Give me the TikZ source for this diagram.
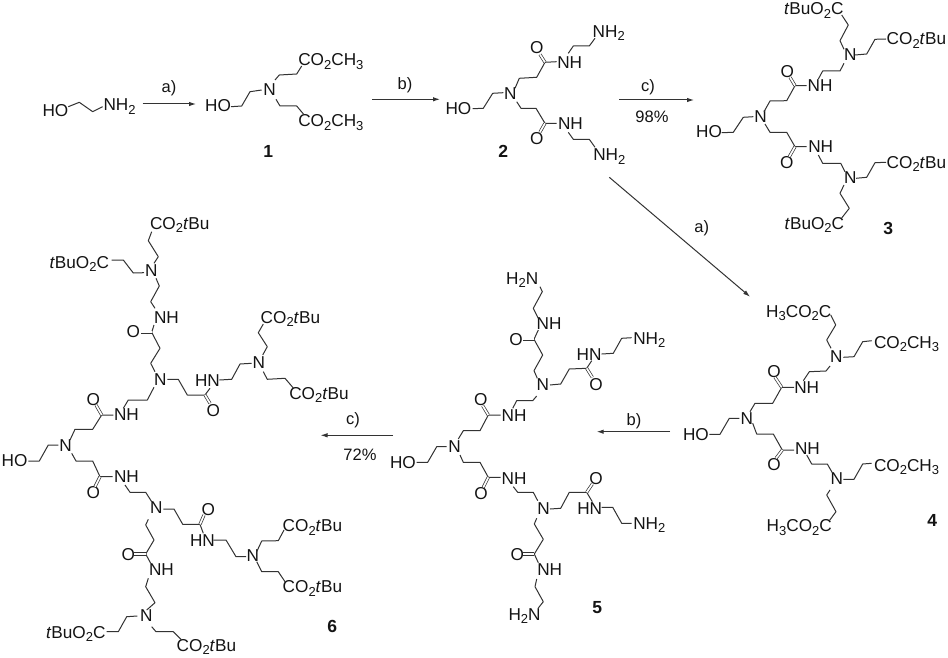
\documentclass[tikz,border=0pt]{standalone}
\usepackage{fontspec}
\setmainfont{Liberation Sans}
\usetikzlibrary{arrows.meta}
\newcommand\dn[1]{\raisebox{-0.2em}{\fontsize{13}{13}\selectfont #1}}
\newcommand\CM{CO\dn{2}CH\dn{3}}
\newcommand\MC{H\dn{3}CO\dn{2}C}
\newcommand\CB{CO\dn{2}\textit{t}Bu}
\newcommand\BC{\textit{t}BuO\dn{2}C}
\newcommand\NHt{NH\dn{2}}
\newcommand\HtN{H\dn{2}N}
\definecolor{ink}{HTML}{141414}
\definecolor{bondc}{HTML}{333333}
\tikzset{
 lbl/.style={anchor=base west,inner sep=0pt,outer sep=0pt,text=ink,font=\fontsize{17.2}{17.2}\selectfont},
 num/.style={anchor=center,inner sep=0pt,text=ink,font=\fontsize{17.5}{17.5}\selectfont\bfseries},
 cond/.style={anchor=center,inner sep=0pt,text=ink,font=\fontsize{16.5}{16.5}\selectfont},
 bond/.style={draw=bondc,line width=1pt,line join=round},
 dbl/.style={draw=bondc,double,double distance=1.7pt,line width=0.7pt},
 rxn/.style={draw=bondc,line width=1pt,-{Latex[length=7pt,width=4.5pt]}}
}
\begin{document}
\begin{tikzpicture}[x=1pt,y=-1pt]
\useasboundingbox (0,0) rectangle (948,658);
\fill[white] (0,0) rectangle (948,658);
% ---------- arrows
\coordinate (ra1) at (142.7,104); \coordinate (rb1) at (196,104);
\coordinate (ra2) at (372,99.3);  \coordinate (rb2) at (440,99.3);
\coordinate (ra3) at (619.3,100); \coordinate (rb3) at (694,100);
\coordinate (ra4) at (609.3,177.3); \coordinate (rb4) at (750,296.7);
\coordinate (ra5) at (670,431.7); \coordinate (rb5) at (596.7,431.7);
\coordinate (ra6) at (393,435.3); \coordinate (rb6) at (320.5,435.3);
\draw[rxn] (ra1)--(rb1); \draw[rxn] (ra2)--(rb2); \draw[rxn] (ra3)--(rb3);
\draw[rxn] (ra4)--(rb4); \draw[rxn] (ra5)--(rb5); \draw[rxn] (ra6)--(rb6);
\node[cond] (ca1) at (169,88) {a)};
\node[cond] (cb1) at (405,85) {b)};
\node[cond] (cc1) at (648,87) {c)};
\node[cond] (cy1) at (652,116.5) {98\%};
\node[cond] (ca2) at (701.7,228.3) {a)};
\node[cond] (cb2) at (634,421) {b)};
\node[cond] (cc2) at (353,420) {c)};
\node[cond] (cy2) at (360,454.5) {72\%};
% ---------- labels
\node[num] (n1) at (268.3,151.7) {1};
\node[num] (n2) at (503.3,151.7) {2};
\node[num] (n3) at (888.3,228.3) {3};
\node[num] (n4) at (932.3,520) {4};
\node[num] (n5) at (597.3,607.7) {5};
\node[num] (n6) at (332.3,626.7) {6};
% ---------- ethanolamine
\node[lbl] (z1) at (42.5,116.5) {HO};
\node[lbl] (z2) at (103.5,111) {\NHt};
\draw[bond] (68.3,106.7)--(79.3,102.3)--(92.7,111.7)--(102.7,106.7);
% ---------- 1
\node[lbl] (a1) at (205.2,112) {HO};
\node[lbl] (a2) at (263.3,96) {N};
\node[lbl] (a3) at (298.3,65.7) {\CM};
\node[lbl] (a4) at (298.3,126.7) {\CM};
\draw[bond] (231,106.7)--(241.7,106)--(250,91.7)--(261.7,90);
\draw[bond] (275,80)--(279.3,75)--(296.7,74)--(301.7,66);
\draw[bond] (276,99.3)--(280,106)--(296.7,106)--(304,114.7);
% ---------- 2
\node[lbl] (b1) at (445.5,114.3) {HO};
\node[lbl] (b2) at (504,99.3) {N};
\node[lbl] (b3) at (530,53.3) {O};
\node[lbl] (b4) at (557.3,68.3) {NH};
\node[lbl] (b5) at (592.7,37.3) {\NHt};
\node[lbl] (b6) at (558,130) {NH};
\node[lbl] (b7) at (530,145) {O};
\node[lbl] (b8) at (593.3,160.7) {\NHt};
\draw[bond] (472.7,108.7)--(483.3,108.3)--(492.7,93.3)--(503.3,92.7);
\draw[bond] (515,88.3)--(519.3,78.3)--(536.7,77.3)--(545,62.3)--(556.7,61.7);
\draw[dbl] (545,62.3)--(540,54.5);
\draw[bond] (568.3,53.3)--(573.3,46)--(589.3,46)--(595,38.3);
\draw[bond] (516.7,101.7)--(521,108.3)--(536,108.3)--(545,123.3)--(556.7,123.3);
\draw[dbl] (545,123.3)--(540,132);
\draw[bond] (568.3,132.3)--(573.3,139.3)--(589.3,139.3)--(595,147.3);
% ---------- 3
\node[lbl] (c1) at (696.2,137.3) {HO};
\node[lbl] (c2) at (754.3,122.3) {N};
\node[lbl] (c3) at (807.7,91.7) {NH};
\node[lbl] (c4) at (780.7,77.3) {O};
\node[lbl] (c5) at (844,60.7) {N};
\node[lbl] (c6) at (784,15) {\BC};
\node[lbl] (c7) at (886.7,45) {\CB};
\node[lbl] (c8) at (808.3,152.7) {NH};
\node[lbl] (c9) at (780,168.3) {O};
\node[lbl] (c10) at (844,183.3) {N};
\node[lbl] (c11) at (886.7,168.3) {\CB};
\node[lbl] (c12) at (784.7,229.3) {\BC};
\draw[bond] (721.7,132.7)--(733.3,132.3)--(743.3,117.3)--(753.3,116.7);
\draw[bond] (764,111.7)--(770,101)--(786.7,100.7)--(795,85.7)--(806.7,85.7);
\draw[dbl] (795,85.7)--(790,77.3);
\draw[bond] (818.3,79)--(822.7,71)--(840,71)--(844,63.3);
\draw[bond] (844,49.3)--(840,40.7)--(848.3,25)--(841.7,15);
\draw[bond] (855,55)--(866.7,54)--(875,39.3)--(886,39);
\draw[bond] (765,124)--(770,132.3)--(786.7,132.3)--(795,146.7)--(806.7,146.7);
\draw[dbl] (795,146.7)--(789.3,156.7);
\draw[bond] (818.3,155)--(822.7,163.3)--(840.7,163.3)--(845,171.7);
\draw[bond] (856,178.3)--(866.7,177.3)--(875,162.7)--(886,162.3);
\draw[bond] (844,185)--(840,193.3)--(849.3,208.3)--(841.7,218);
% ---------- 4
\node[lbl] (d1) at (766.2,317.3) {\MC};
\node[lbl] (d2) at (830,362.3) {N};
\node[lbl] (d3) at (874,348.3) {\CM};
\node[lbl] (d4) at (794.3,393.3) {NH};
\node[lbl] (d5) at (767.3,377.3) {O};
\node[lbl] (d6) at (740.7,424.3) {N};
\node[lbl] (d7) at (683,440) {HO};
\node[lbl] (d8) at (795,454) {NH};
\node[lbl] (d9) at (767.3,470) {O};
\node[lbl] (d10) at (830.7,484.3) {N};
\node[lbl] (d11) at (874,471) {\CM};
\node[lbl] (d12) at (766.7,531.7) {\MC};
\draw[bond] (830.7,315)--(835.7,325)--(826.7,340)--(831,348.3);
\draw[bond] (843.3,357.3)--(854,356.7)--(862.7,341.7)--(871.7,340.7);
\draw[bond] (830,366)--(826,371)--(809.3,371.7)--(803.3,380.7);
\draw[bond] (794,387.3)--(781.7,387.3)--(772.7,403.3)--(755,403.3)--(750,411.7);
\draw[dbl] (781.7,387.3)--(775,377.3);
\draw[bond] (739.3,418.3)--(729.3,418.3)--(720,434.3)--(709.3,434.3);
\draw[bond] (752.7,423.3)--(756.7,434)--(773.3,434)--(782.3,450)--(794,450);
\draw[dbl] (782.3,450)--(776,458.3);
\draw[bond] (806.7,455)--(811.7,464)--(827.3,464)--(832.3,472.7);
\draw[bond] (843.3,479.3)--(854,479.3)--(862.7,464)--(871.7,463.3);
\draw[bond] (830,490)--(826.7,495)--(836,511.7)--(829.3,520.7);
% ---------- 5
\node[lbl] (e1) at (506.2,284) {\HtN};
\node[lbl] (e2) at (536.7,329.3) {NH};
\node[lbl] (e3) at (509.3,345) {O};
\node[lbl] (e4) at (536.7,390) {N};
\node[lbl] (e5) at (576.7,360) {HN};
\node[lbl] (e6) at (589.3,390.7) {O};
\node[lbl] (e7) at (633.3,344) {\NHt};
\node[lbl] (e8) at (501.7,421.7) {NH};
\node[lbl] (e9) at (474,405.7) {O};
\node[lbl] (e10) at (448.3,452.7) {N};
\node[lbl] (e11) at (390,468.3) {HO};
\node[lbl] (e12) at (501.7,484) {NH};
\node[lbl] (e13) at (474.3,499.3) {O};
\node[lbl] (e14) at (537.3,514) {N};
\node[lbl] (e15) at (589.3,484) {O};
\node[lbl] (e16) at (577.3,514) {HN};
\node[lbl] (e17) at (633.3,529) {\NHt};
\node[lbl] (e18) at (510.7,560) {O};
\node[lbl] (e19) at (537.3,575) {NH};
\node[lbl] (e20) at (508.5,620) {\HtN};
\draw[bond] (540,286.7)--(542.3,291.7)--(533.3,308.3)--(538.3,318.3);
\draw[bond] (538.3,330)--(534,339.3)--(542.7,355)--(534,370.7)--(537.3,378.3);
\draw[dbl] (534,339.3)--(522.7,339.3);
\draw[bond] (550,385)--(560.7,384)--(569.3,369)--(586.7,368.3)--(591.7,360.7);
\draw[dbl] (586.7,368.3)--(592.3,377.3);
\draw[bond] (601.7,354)--(613.3,353.3)--(621.7,338.3)--(631.7,337.7);
\draw[bond] (536.7,396)--(532.7,400.7)--(516.7,400.7)--(512.7,408.3);
\draw[bond] (500.7,415)--(488.3,415)--(480,430.7)--(463.3,430.7)--(458.3,439);
\draw[dbl] (488.3,415)--(482.7,405.7);
\draw[bond] (446.7,446.7)--(436.7,446.7)--(427.7,462.3)--(416.7,462.3);
\draw[bond] (460,455)--(463.3,462.3)--(480,462.3)--(488.3,477.3)--(500.7,477.3);
\draw[dbl] (488.3,477.3)--(483.3,487.3);
\draw[bond] (513.3,486.7)--(517.7,492.3)--(533.3,492.3)--(537.7,500.7);
\draw[bond] (550,509)--(560.7,508.3)--(569.3,492.3)--(586.7,492.3)--(592.3,501.7);
\draw[dbl] (586.7,492.3)--(592.3,484);
\draw[bond] (601.7,507.3)--(612.7,507.3)--(621.7,523.3)--(631.7,523.3);
\draw[bond] (536.7,518.3)--(534.3,524)--(543.3,539.3)--(534.3,554)--(538.3,562.7);
\draw[dbl] (534.3,554)--(523.3,554);
\draw[bond] (536.7,579)--(535,586.7)--(543.3,601.7)--(538.3,608);
% ---------- 6
\node[lbl] (f1) at (150,229.3) {\CB};
\node[lbl] (f2) at (145,276) {N};
\node[lbl] (f3) at (49.5,268.3) {\BC};
\node[lbl] (f4) at (154,323.3) {NH};
\node[lbl] (f5) at (126.7,337.7) {O};
\node[lbl] (f6) at (154,385) {N};
\node[lbl] (f7) at (206.7,416.7) {O};
\node[lbl] (f8) at (195,386.7) {HN};
\node[lbl] (f9) at (252.7,368.3) {N};
\node[lbl] (f10) at (260.7,323.3) {\CB};
\node[lbl] (f11) at (289.3,399) {\CB};
\node[lbl] (f12) at (114,420) {NH};
\node[lbl] (f13) at (86.7,405) {O};
\node[lbl] (f14) at (59.3,451.7) {N};
\node[lbl] (f15) at (1.7,466) {HO};
\node[lbl] (f16) at (114,482.3) {NH};
\node[lbl] (f17) at (86.7,498.3) {O};
\node[lbl] (f18) at (150,513.3) {N};
\node[lbl] (f19) at (201.7,515.7) {O};
\node[lbl] (f20) at (190,546) {HN};
\node[lbl] (f21) at (246.7,561.7) {N};
\node[lbl] (f22) at (282.7,531.7) {\CB};
\node[lbl] (f23) at (282.7,592.7) {\CB};
\node[lbl] (f24) at (121.7,560) {O};
\node[lbl] (f25) at (149,575.7) {NH};
\node[lbl] (f26) at (140,621.7) {N};
\node[lbl] (f27) at (46,638.3) {\BC};
\node[lbl] (f28) at (176.7,651) {\CB};
\draw[bond] (151.7,231.7)--(148.3,240.7)--(158.3,256.7)--(154,263.3);
\draw[bond] (111.7,260)--(123.3,260)--(133.3,273)--(144,272.7);
\draw[bond] (156,278.3)--(159.3,286)--(150.7,301.7)--(155,308.3);
\draw[bond] (154,325)--(151.7,332.3)--(160,348.3)--(150.7,363.3)--(155,371.7);
\draw[dbl] (151.7,332.3)--(140.7,332.3);
\draw[bond] (167.3,379.3)--(178.3,379.3)--(187.3,395)--(205,395)--(210,388.3);
\draw[dbl] (205,395)--(210,403.3);
\draw[bond] (219.3,380)--(231.7,379.3)--(240,364)--(251.7,363.3);
\draw[bond] (262.7,355)--(267.3,346.7)--(258.3,332.7)--(263.3,324);
\draw[bond] (263.3,371.7)--(267.3,379.3)--(285,378.3)--(293.3,388);
\draw[bond] (154,387.3)--(147.3,400)--(128.3,400)--(123.3,408.3);
\draw[bond] (113.3,415)--(101.7,415)--(92.7,429.3)--(75,429.3)--(70,440);
\draw[dbl] (101.7,415)--(96,405);
\draw[bond] (58.3,445)--(48.3,445)--(39.3,461)--(28.3,461);
\draw[bond] (71.7,453.3)--(76,461)--(92.7,461)--(100,476.7)--(112.7,476.7);
\draw[dbl] (100,476.7)--(95,486.7);
\draw[bond] (125,485)--(130,492.3)--(145.7,492.3)--(151.7,501.7);
\draw[bond] (163.3,509)--(174,509)--(182.7,524.3)--(200,524.3)--(203.3,533.3);
\draw[dbl] (200,524.3)--(204,515);
\draw[bond] (213.3,540)--(226,540)--(236,556.7)--(246,556.7);
\draw[bond] (256.7,551.7)--(261.7,541)--(278.3,540.7)--(284,530);
\draw[bond] (256.7,561.7)--(261.7,571.7)--(278.3,571.7)--(285,581.7);
\draw[bond] (148.3,519.3)--(145.7,525)--(154,540)--(145.7,554)--(150.7,563.3);
\draw[dbl] (145.7,554)--(134,554);
\draw[bond] (148.3,578.3)--(145.7,586.7)--(155,602.7)--(146.7,610);
\draw[bond] (137.3,616)--(126.7,616.7)--(118.3,631.7)--(106.7,631.7);
\draw[bond] (151.7,626.7)--(156,631.7)--(173.3,631.7)--(181.7,640);
\end{tikzpicture}
\end{document}
